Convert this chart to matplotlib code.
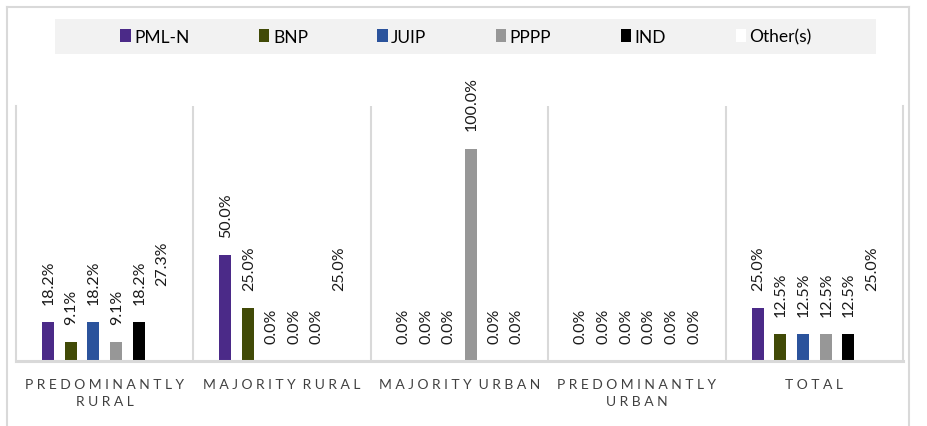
import matplotlib.pyplot as plt
from matplotlib.lines import Line2D
from matplotlib.patches import Rectangle
import numpy as np

plt.rcParams["font.family"] = ["Lato", "DejaVu Sans"]

categories = ["PREDOMINANTLY\nRURAL", "MAJORITY RURAL", "MAJORITY URBAN",
              "PREDOMINANTLY\nURBAN", "TOTAL"]
parties = ["PML-N", "BNP", "JUIP", "PPPP", "IND", "Other(s)"]
colors = ["#4B2A88", "#414A07", "#2B539C", "#979797", "#000000", "#FFFFFF"]

pml_n = [18.2, 50.0, 0.0, 0.0, 25.0]
bnp = [9.1, 25.0, 0.0, 0.0, 12.5]
juip = [18.2, 0.0, 0.0, 0.0, 12.5]
pppp = [9.1, 0.0, 100.0, 0.0, 12.5]
ind = [18.2, 0.0, 0.0, 0.0, 12.5]
others = [27.3, 25.0, 0.0, 0.0, 25.0]
series = [pml_n, bnp, juip, pppp, ind, others]


def spaced(label):
    lines = []
    for line in label.split("\n"):
        words = [" ".join(w) for w in line.split(" ")]
        lines.append("  ".join(words))
    return "\n".join(lines)


def main():
    fig = plt.figure(figsize=(9.28, 4.27), dpi=100)
    W, H = 928, 427
    ax = fig.add_axes([16 / W, 1 - 362 / H, (903 - 16) / W, (362 - 107) / H])

    x = np.arange(len(categories))
    step = 0.128
    width = 0.068
    grey = "#D9D9D9"

    handles = []
    for i, (vals, col, name) in enumerate(zip(series, colors, parties)):
        pos = x + (i - 2.5) * step
        bars = ax.bar(pos, vals, width, color=col, label=name, zorder=2)
        handles.append(bars)
        for p, v in zip(pos, vals):
            ax.annotate(f"{v:.1f}%", (p, v), xytext=(0.5, 13), textcoords="offset points",
                        rotation=90, ha="center", va="bottom", fontsize=11.5, color="#1a1a1a")

    ax.set_xlim(-0.5, len(categories) - 0.5)
    ax.set_ylim(0, 120)
    ax.set_yticks([])
    ax.set_xticks(x)
    ax.set_xticklabels([spaced(c) for c in categories], fontsize=10, color="#404040",
                       linespacing=1.5)
    ax.tick_params(axis="x", length=0, pad=12)
    for b in np.arange(0.5, len(categories) - 0.5, 1):
        ax.axvline(b, color=grey, lw=1.5, zorder=1)
    ax.spines["top"].set_visible(False)
    for s in ["left", "right"]:
        ax.spines[s].set_color(grey)
        ax.spines[s].set_linewidth(1.5)
    ax.spines["bottom"].set_color(grey)
    ax.spines["bottom"].set_linewidth(2.2)
    ax.spines["bottom"].set_zorder(3)

    # legend band
    fig.patches.append(Rectangle((55 / W, 1 - 55 / H), (876 - 55) / W, 35 / H,
                                 transform=fig.transFigure, facecolor="#F2F2F2",
                                 edgecolor="none", zorder=0))
    fig.legend(handles=handles, labels=parties, loc="center", ncol=6,
               bbox_to_anchor=(466 / W, 1 - 37.5 / H), frameon=False, fontsize=12.5,
               handlelength=0.6, handleheight=0.8, handletextpad=0.2, columnspacing=4.0)

    # outer border
    for xs, ys in [((7, 909), (8, 8)), ((7, 7), (8, 427)), ((909, 909), (8, 427))]:
        fig.add_artist(Line2D([v / W for v in xs], [1 - v / H for v in ys],
                              transform=fig.transFigure, color=grey, lw=1.5))

    fig.savefig("out.png", dpi=100)


if __name__ == "__main__":
    main()
